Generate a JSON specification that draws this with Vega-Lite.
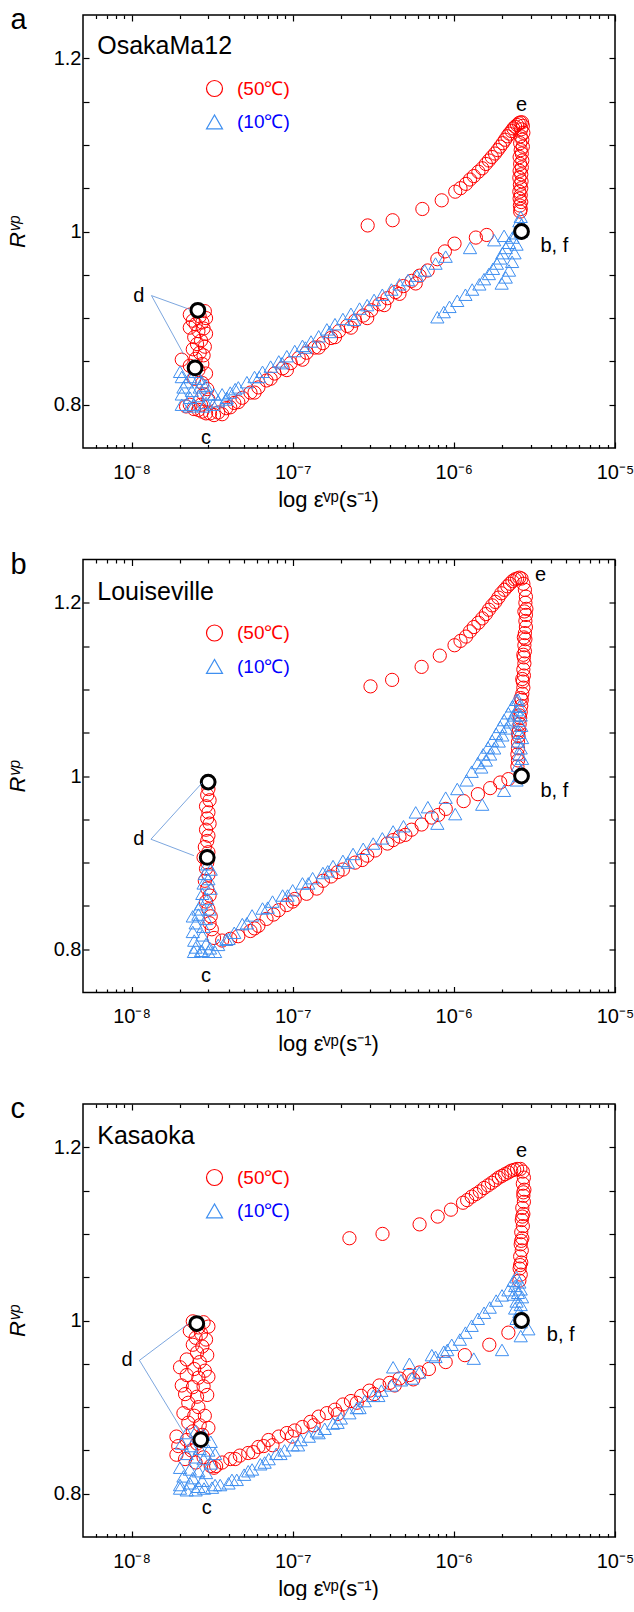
{
"$schema": "https://vega.github.io/schema/vega-lite/v6.json",
"background": "white",
"padding": {"left": 5, "top": 5, "right": 0, "bottom": 0},
"bounds": "flush",
"spacing": 111.5,
"config": {
  "view": {"stroke": "black", "strokeWidth": 1.5},
  "font": "Liberation Sans",
  "axis": {"domain": false, "grid": false, "tickColor": "black", "tickWidth": 1.2, "labelFont": "Liberation Sans", "labelFontSize": 20, "labelColor": "black", "labelFlush": false, "labelOverlap": false, "titleFont": "Liberation Sans", "titleFontSize": 22, "titleFontWeight": "normal", "titleColor": "black"},
  "legend": {"labelColor": {"expr": "datum.value === '50' ? '#ff0000' : '#0000ff'"}},
  "title": {"anchor": "start", "frame": "group", "fontSize": 29, "fontWeight": "normal", "font": "Liberation Sans", "color": "black", "offset": 0, "baseline": "alphabetic", "dx": -72.5, "dy": 25}
},
"resolve": {"scale": {"color": "independent", "shape": "independent"}, "legend": {"color": "independent", "shape": "independent"}},
"datasets": {
"ptsA": [
{"x":2.92e-7,"y":1.007,"T":"50"},{"x":4.17e-7,"y":1.013,"T":"50"},{"x":6.38e-7,"y":1.026,"T":"50"},{"x":8.41e-7,"y":1.036,"T":"50"},{"x":1.02e-6,"y":1.046,"T":"50"},{"x":1.1e-6,"y":1.05,"T":"50"},{"x":1.19e-6,"y":1.055,"T":"50"},{"x":1.26e-6,"y":1.06,"T":"50"},{"x":1.33e-6,"y":1.064,"T":"50"},{"x":1.42e-6,"y":1.069,"T":"50"},{"x":1.5e-6,"y":1.073,"T":"50"},{"x":1.58e-6,"y":1.078,"T":"50"},{"x":1.65e-6,"y":1.082,"T":"50"},{"x":1.72e-6,"y":1.086,"T":"50"},{"x":1.8e-6,"y":1.09,"T":"50"},{"x":1.87e-6,"y":1.094,"T":"50"},{"x":1.94e-6,"y":1.098,"T":"50"},{"x":2.01e-6,"y":1.102,"T":"50"},{"x":2.08e-6,"y":1.106,"T":"50"},{"x":2.15e-6,"y":1.11,"T":"50"},{"x":2.21e-6,"y":1.113,"T":"50"},{"x":2.28e-6,"y":1.116,"T":"50"},{"x":2.34e-6,"y":1.119,"T":"50"},{"x":2.4e-6,"y":1.121,"T":"50"},{"x":2.47e-6,"y":1.123,"T":"50"},{"x":2.53e-6,"y":1.125,"T":"50"},{"x":2.59e-6,"y":1.126,"T":"50"},{"x":2.65e-6,"y":1.126,"T":"50"},
{"x":2.68e-6,"y":1.122,"T":"50"},{"x":2.62e-6,"y":1.118,"T":"50"},{"x":2.7e-6,"y":1.114,"T":"50"},{"x":2.6e-6,"y":1.11,"T":"50"},{"x":2.66e-6,"y":1.106,"T":"50"},{"x":2.58e-6,"y":1.102,"T":"50"},{"x":2.68e-6,"y":1.098,"T":"50"},{"x":2.6e-6,"y":1.094,"T":"50"},{"x":2.64e-6,"y":1.09,"T":"50"},{"x":2.56e-6,"y":1.086,"T":"50"},{"x":2.66e-6,"y":1.082,"T":"50"},{"x":2.58e-6,"y":1.078,"T":"50"},{"x":2.64e-6,"y":1.074,"T":"50"},{"x":2.56e-6,"y":1.07,"T":"50"},{"x":2.62e-6,"y":1.066,"T":"50"},{"x":2.55e-6,"y":1.062,"T":"50"},{"x":2.63e-6,"y":1.058,"T":"50"},{"x":2.57e-6,"y":1.054,"T":"50"},{"x":2.62e-6,"y":1.05,"T":"50"},{"x":2.55e-6,"y":1.046,"T":"50"},{"x":2.6e-6,"y":1.042,"T":"50"},{"x":2.56e-6,"y":1.038,"T":"50"},{"x":2.62e-6,"y":1.034,"T":"50"},{"x":2.57e-6,"y":1.03,"T":"50"},{"x":2.6e-6,"y":1.026,"T":"50"},{"x":2.58e-6,"y":1.023,"T":"50"},
{"x":1.6e-6,"y":0.996,"T":"50"},{"x":1.37e-6,"y":0.993,"T":"50"},{"x":1.01e-6,"y":0.986,"T":"50"},{"x":8.8e-7,"y":0.977,"T":"50"},{"x":7.9e-7,"y":0.968,"T":"50"},{"x":6.88e-7,"y":0.955,"T":"50"},{"x":6.13e-7,"y":0.949,"T":"50"},{"x":5.47e-7,"y":0.943,"T":"50"},{"x":4.87e-7,"y":0.937,"T":"50"},{"x":4.34e-7,"y":0.93,"T":"50"},{"x":3.87e-7,"y":0.923,"T":"50"},{"x":3.45e-7,"y":0.916,"T":"50"},{"x":3.07e-7,"y":0.909,"T":"50"},{"x":2.74e-7,"y":0.903,"T":"50"},{"x":2.44e-7,"y":0.897,"T":"50"},{"x":2.18e-7,"y":0.891,"T":"50"},{"x":1.94e-7,"y":0.885,"T":"50"},{"x":1.73e-7,"y":0.877,"T":"50"},{"x":1.54e-7,"y":0.871,"T":"50"},{"x":1.37e-7,"y":0.866,"T":"50"},{"x":1.22e-7,"y":0.86,"T":"50"},{"x":1.09e-7,"y":0.854,"T":"50"},{"x":9.72e-8,"y":0.848,"T":"50"},{"x":8.66e-8,"y":0.842,"T":"50"},{"x":7.72e-8,"y":0.836,"T":"50"},{"x":6.88e-8,"y":0.828,"T":"50"},{"x":6.13e-8,"y":0.82,"T":"50"},{"x":5.47e-8,"y":0.814,"T":"50"},{"x":4.87e-8,"y":0.808,"T":"50"},{"x":4.34e-8,"y":0.802,"T":"50"},{"x":3.87e-8,"y":0.796,"T":"50"},{"x":3.45e-8,"y":0.791,"T":"50"},{"x":3.07e-8,"y":0.79,"T":"50"},{"x":2.74e-8,"y":0.792,"T":"50"},{"x":2.44e-8,"y":0.795,"T":"50"},{"x":2.18e-8,"y":0.798,"T":"50"},
{"x":5.8e-7,"y":0.94,"T":"50"},{"x":4.6e-7,"y":0.928,"T":"50"},{"x":3.7e-7,"y":0.915,"T":"50"},{"x":2.9e-7,"y":0.9,"T":"50"},{"x":2.3e-7,"y":0.889,"T":"50"},{"x":1.83e-7,"y":0.878,"T":"50"},{"x":1.45e-7,"y":0.866,"T":"50"},{"x":1.15e-7,"y":0.852,"T":"50"},{"x":9.2e-8,"y":0.84,"T":"50"},{"x":7.3e-8,"y":0.83,"T":"50"},{"x":5.8e-8,"y":0.814,"T":"50"},{"x":4.6e-8,"y":0.803,"T":"50"},{"x":4.1e-8,"y":0.797,"T":"50"},{"x":3.65e-8,"y":0.789,"T":"50"},{"x":3.25e-8,"y":0.788,"T":"50"},{"x":2.9e-8,"y":0.79,"T":"50"},{"x":2.6e-8,"y":0.794,"T":"50"},
{"x":2.55e-8,"y":0.909,"T":"50"},{"x":2.85e-8,"y":0.908,"T":"50"},{"x":2.3e-8,"y":0.904,"T":"50"},{"x":2.65e-8,"y":0.902,"T":"50"},{"x":2.9e-8,"y":0.9,"T":"50"},{"x":2.4e-8,"y":0.897,"T":"50"},{"x":2.75e-8,"y":0.895,"T":"50"},{"x":2.5e-8,"y":0.893,"T":"50"},{"x":2.3e-8,"y":0.889,"T":"50"},{"x":2.8e-8,"y":0.888,"T":"50"},{"x":2.6e-8,"y":0.885,"T":"50"},{"x":2.9e-8,"y":0.882,"T":"50"},{"x":2.45e-8,"y":0.878,"T":"50"},{"x":2.7e-8,"y":0.874,"T":"50"},{"x":2.55e-8,"y":0.87,"T":"50"},{"x":2.85e-8,"y":0.867,"T":"50"},{"x":2.4e-8,"y":0.864,"T":"50"},{"x":2.65e-8,"y":0.86,"T":"50"},{"x":2.8e-8,"y":0.857,"T":"50"},{"x":2.5e-8,"y":0.853,"T":"50"},{"x":2.05e-8,"y":0.852,"T":"50"},{"x":2.75e-8,"y":0.847,"T":"50"},{"x":2.3e-8,"y":0.845,"T":"50"},{"x":2.6e-8,"y":0.84,"T":"50"},{"x":2.9e-8,"y":0.836,"T":"50"},{"x":2.45e-8,"y":0.83,"T":"50"},{"x":2.75e-8,"y":0.825,"T":"50"},{"x":2.95e-8,"y":0.818,"T":"50"},{"x":2.8e-8,"y":0.812,"T":"50"},{"x":3.0e-8,"y":0.806,"T":"50"},{"x":2.7e-8,"y":0.8,"T":"50"},{"x":2.3e-8,"y":0.8,"T":"50"},
{"x":2.6e-6,"y":1.017,"T":"10"},{"x":2.55e-6,"y":1.012,"T":"10"},{"x":2.63e-6,"y":1.008,"T":"10"},{"x":2.52e-6,"y":1.004,"T":"10"},{"x":2.6e-6,"y":1.0,"T":"10"},{"x":2.45e-6,"y":0.998,"T":"10"},
{"x":2.31e-6,"y":0.993,"T":"10"},{"x":2.2e-6,"y":0.987,"T":"10"},{"x":2.1e-6,"y":0.981,"T":"10"},{"x":2.0e-6,"y":0.975,"T":"10"},{"x":1.94e-6,"y":0.969,"T":"10"},{"x":1.85e-6,"y":0.963,"T":"10"},{"x":1.75e-6,"y":0.957,"T":"10"},{"x":1.65e-6,"y":0.951,"T":"10"},{"x":1.54e-6,"y":0.945,"T":"10"},{"x":1.44e-6,"y":0.939,"T":"10"},{"x":1.3e-6,"y":0.933,"T":"10"},{"x":1.18e-6,"y":0.927,"T":"10"},{"x":1.05e-6,"y":0.92,"T":"10"},{"x":9.4e-7,"y":0.913,"T":"10"},{"x":8.66e-7,"y":0.907,"T":"10"},{"x":7.9e-7,"y":0.901,"T":"10"},
{"x":2.45e-6,"y":0.985,"T":"10"},{"x":2.38e-6,"y":0.975,"T":"10"},{"x":2.3e-6,"y":0.965,"T":"10"},{"x":2.2e-6,"y":0.955,"T":"10"},{"x":2.1e-6,"y":0.947,"T":"10"},{"x":1.98e-6,"y":0.94,"T":"10"},
{"x":2.05e-6,"y":0.995,"T":"10"},{"x":1.78e-6,"y":0.99,"T":"10"},{"x":1.26e-6,"y":0.981,"T":"10"},{"x":8.9e-7,"y":0.971,"T":"10"},{"x":7.7e-7,"y":0.963,"T":"10"},{"x":6.6e-7,"y":0.955,"T":"10"},{"x":5.9e-7,"y":0.949,"T":"10"},{"x":5.2e-7,"y":0.944,"T":"10"},{"x":4.6e-7,"y":0.939,"T":"10"},{"x":4.1e-7,"y":0.933,"T":"10"},{"x":3.6e-7,"y":0.927,"T":"10"},{"x":3.2e-7,"y":0.921,"T":"10"},{"x":2.9e-7,"y":0.915,"T":"10"},{"x":2.6e-7,"y":0.911,"T":"10"},{"x":2.3e-7,"y":0.905,"T":"10"},{"x":2.05e-7,"y":0.899,"T":"10"},{"x":1.83e-7,"y":0.893,"T":"10"},{"x":1.63e-7,"y":0.887,"T":"10"},{"x":1.45e-7,"y":0.879,"T":"10"},{"x":1.3e-7,"y":0.873,"T":"10"},{"x":1.15e-7,"y":0.868,"T":"10"},{"x":1.03e-7,"y":0.862,"T":"10"},{"x":9.2e-8,"y":0.856,"T":"10"},{"x":8.2e-8,"y":0.85,"T":"10"},{"x":7.3e-8,"y":0.844,"T":"10"},{"x":6.5e-8,"y":0.838,"T":"10"},{"x":5.8e-8,"y":0.832,"T":"10"},{"x":5.2e-8,"y":0.826,"T":"10"},{"x":4.6e-8,"y":0.82,"T":"10"},{"x":4.1e-8,"y":0.814,"T":"10"},{"x":3.65e-8,"y":0.812,"T":"10"},{"x":3.25e-8,"y":0.812,"T":"10"},{"x":3.0e-8,"y":0.812,"T":"10"},
{"x":2.4e-7,"y":0.898,"T":"10"},{"x":1.7e-7,"y":0.884,"T":"10"},{"x":1.2e-7,"y":0.866,"T":"10"},{"x":8.6e-8,"y":0.848,"T":"10"},{"x":6.2e-8,"y":0.832,"T":"10"},{"x":4.4e-8,"y":0.818,"T":"10"},{"x":3.9e-8,"y":0.808,"T":"10"},
{"x":2.0e-8,"y":0.838,"T":"10"},{"x":2.05e-8,"y":0.832,"T":"10"},{"x":2.31e-8,"y":0.832,"T":"10"},{"x":2.6e-8,"y":0.83,"T":"10"},{"x":2.74e-8,"y":0.826,"T":"10"},{"x":2.1e-8,"y":0.82,"T":"10"},{"x":2.37e-8,"y":0.816,"T":"10"},{"x":2.65e-8,"y":0.82,"T":"10"},{"x":2.9e-8,"y":0.822,"T":"10"},{"x":2.05e-8,"y":0.812,"T":"10"},{"x":2.31e-8,"y":0.808,"T":"10"},{"x":2.6e-8,"y":0.81,"T":"10"},{"x":2.05e-8,"y":0.8,"T":"10"},{"x":2.44e-8,"y":0.8,"T":"10"},{"x":2.9e-8,"y":0.802,"T":"10"},{"x":3.45e-8,"y":0.804,"T":"10"},{"x":3.87e-8,"y":0.806,"T":"10"},{"x":2.3e-8,"y":0.798,"T":"10"},{"x":2.8e-8,"y":0.798,"T":"10"},{"x":3.2e-8,"y":0.8,"T":"10"},{"x":2.2e-8,"y":0.826,"T":"10"},{"x":2.5e-8,"y":0.838,"T":"10"}
],
"ptsB": [
{"x":3.04e-7,"y":1.1035,"T":"50"},{"x":4.14e-7,"y":1.111,"T":"50"},{"x":6.31e-7,"y":1.126,"T":"50"},{"x":8.18e-7,"y":1.139,"T":"50"},{"x":1.01e-6,"y":1.151,"T":"50"},{"x":1.1e-6,"y":1.156,"T":"50"},{"x":1.19e-6,"y":1.161,"T":"50"},{"x":1.26e-6,"y":1.167,"T":"50"},{"x":1.33e-6,"y":1.172,"T":"50"},{"x":1.42e-6,"y":1.177,"T":"50"},{"x":1.5e-6,"y":1.182,"T":"50"},{"x":1.58e-6,"y":1.187,"T":"50"},{"x":1.65e-6,"y":1.192,"T":"50"},{"x":1.73e-6,"y":1.197,"T":"50"},{"x":1.81e-6,"y":1.201,"T":"50"},{"x":1.89e-6,"y":1.206,"T":"50"},{"x":1.97e-6,"y":1.211,"T":"50"},{"x":2.06e-6,"y":1.215,"T":"50"},{"x":2.15e-6,"y":1.219,"T":"50"},{"x":2.23e-6,"y":1.222,"T":"50"},{"x":2.31e-6,"y":1.225,"T":"50"},{"x":2.39e-6,"y":1.227,"T":"50"},{"x":2.47e-6,"y":1.228,"T":"50"},{"x":2.55e-6,"y":1.229,"T":"50"},{"x":2.63e-6,"y":1.228,"T":"50"},
{"x":2.7e-6,"y":1.222,"T":"50"},{"x":2.76e-6,"y":1.215,"T":"50"},{"x":2.8e-6,"y":1.207,"T":"50"},{"x":2.78e-6,"y":1.2,"T":"50"},{"x":2.82e-6,"y":1.193,"T":"50"},{"x":2.8e-6,"y":1.186,"T":"50"},{"x":2.78e-6,"y":1.179,"T":"50"},{"x":2.8e-6,"y":1.172,"T":"50"},{"x":2.76e-6,"y":1.165,"T":"50"},{"x":2.78e-6,"y":1.158,"T":"50"},{"x":2.74e-6,"y":1.151,"T":"50"},{"x":2.76e-6,"y":1.144,"T":"50"},{"x":2.72e-6,"y":1.137,"T":"50"},{"x":2.74e-6,"y":1.13,"T":"50"},{"x":2.7e-6,"y":1.123,"T":"50"},{"x":2.72e-6,"y":1.116,"T":"50"},{"x":2.68e-6,"y":1.109,"T":"50"},{"x":2.7e-6,"y":1.102,"T":"50"},{"x":2.66e-6,"y":1.095,"T":"50"},{"x":2.64e-6,"y":1.088,"T":"50"},{"x":2.62e-6,"y":1.081,"T":"50"},{"x":2.6e-6,"y":1.074,"T":"50"},{"x":2.58e-6,"y":1.067,"T":"50"},{"x":2.56e-6,"y":1.06,"T":"50"},{"x":2.54e-6,"y":1.053,"T":"50"},{"x":2.52e-6,"y":1.046,"T":"50"},{"x":2.5e-6,"y":1.039,"T":"50"},{"x":2.5e-6,"y":1.032,"T":"50"},{"x":2.48e-6,"y":1.025,"T":"50"},{"x":2.5e-6,"y":1.018,"T":"50"},{"x":2.48e-6,"y":1.011,"T":"50"},{"x":2.74e-6,"y":1.19,"T":"50"},{"x":2.72e-6,"y":1.16,"T":"50"},{"x":2.7e-6,"y":1.14,"T":"50"},{"x":2.66e-6,"y":1.112,"T":"50"},{"x":2.6e-6,"y":1.09,"T":"50"},{"x":2.55e-6,"y":1.07,"T":"50"},{"x":2.5e-6,"y":1.05,"T":"50"},
{"x":2.18e-6,"y":0.9964,"T":"50"},{"x":1.94e-6,"y":0.9925,"T":"50"},{"x":1.68e-6,"y":0.986,"T":"50"},{"x":1.41e-6,"y":0.979,"T":"50"},{"x":1.15e-6,"y":0.971,"T":"50"},{"x":8.91e-7,"y":0.962,"T":"50"},{"x":7.29e-7,"y":0.952,"T":"50"},{"x":6.31e-7,"y":0.944,"T":"50"},{"x":5.47e-7,"y":0.938,"T":"50"},{"x":4.6e-7,"y":0.93,"T":"50"},{"x":3.87e-7,"y":0.922,"T":"50"},{"x":3.25e-7,"y":0.914,"T":"50"},{"x":2.9e-7,"y":0.908,"T":"50"},{"x":2.44e-7,"y":0.9,"T":"50"},{"x":2.05e-7,"y":0.892,"T":"50"},{"x":1.73e-7,"y":0.884,"T":"50"},{"x":1.54e-7,"y":0.879,"T":"50"},{"x":1.41e-7,"y":0.87,"T":"50"},{"x":1.22e-7,"y":0.864,"T":"50"},{"x":1.03e-7,"y":0.858,"T":"50"},{"x":9.17e-8,"y":0.851,"T":"50"},{"x":8.18e-8,"y":0.845,"T":"50"},{"x":6.88e-8,"y":0.835,"T":"50"},{"x":6.13e-8,"y":0.827,"T":"50"},{"x":5.47e-8,"y":0.821,"T":"50"},{"x":4.6e-8,"y":0.815,"T":"50"},{"x":4.1e-8,"y":0.812,"T":"50"},{"x":3.65e-8,"y":0.81,"T":"50"},{"x":3.25e-8,"y":0.813,"T":"50"},
{"x":8.0e-7,"y":0.955,"T":"50"},{"x":5.0e-7,"y":0.932,"T":"50"},{"x":4.2e-7,"y":0.926,"T":"50"},{"x":2.7e-7,"y":0.903,"T":"50"},{"x":1.9e-7,"y":0.889,"T":"50"},{"x":1.0e-7,"y":0.855,"T":"50"},{"x":7.6e-8,"y":0.84,"T":"50"},{"x":5.8e-8,"y":0.824,"T":"50"},
{"x":2.99e-8,"y":0.993,"T":"50"},{"x":3.0e-8,"y":0.985,"T":"50"},{"x":2.95e-8,"y":0.978,"T":"50"},{"x":3.05e-8,"y":0.972,"T":"50"},{"x":2.9e-8,"y":0.965,"T":"50"},{"x":3.0e-8,"y":0.958,"T":"50"},{"x":2.95e-8,"y":0.951,"T":"50"},{"x":3.05e-8,"y":0.945,"T":"50"},{"x":2.9e-8,"y":0.938,"T":"50"},{"x":3.0e-8,"y":0.931,"T":"50"},{"x":2.95e-8,"y":0.925,"T":"50"},{"x":2.85e-8,"y":0.918,"T":"50"},{"x":3.0e-8,"y":0.912,"T":"50"},{"x":2.8e-8,"y":0.906,"T":"50"},{"x":2.95e-8,"y":0.9,"T":"50"},{"x":2.9e-8,"y":0.893,"T":"50"},{"x":3.0e-8,"y":0.886,"T":"50"},{"x":2.85e-8,"y":0.879,"T":"50"},{"x":2.95e-8,"y":0.87,"T":"50"},{"x":3.05e-8,"y":0.862,"T":"50"},{"x":2.9e-8,"y":0.855,"T":"50"},{"x":3.0e-8,"y":0.846,"T":"50"},{"x":3.1e-8,"y":0.838,"T":"50"},{"x":3.05e-8,"y":0.83,"T":"50"},{"x":3.15e-8,"y":0.823,"T":"50"},
{"x":2.5e-6,"y":1.088,"T":"10"},{"x":2.55e-6,"y":1.08,"T":"10"},{"x":2.45e-6,"y":1.076,"T":"10"},{"x":2.6e-6,"y":1.07,"T":"10"},{"x":2.5e-6,"y":1.064,"T":"10"},{"x":2.62e-6,"y":1.058,"T":"10"},{"x":2.55e-6,"y":1.05,"T":"10"},{"x":2.65e-6,"y":1.044,"T":"10"},{"x":2.5e-6,"y":1.04,"T":"10"},{"x":2.6e-6,"y":1.032,"T":"10"},{"x":2.55e-6,"y":1.025,"T":"10"},{"x":2.65e-6,"y":1.02,"T":"10"},{"x":2.5e-6,"y":1.012,"T":"10"},{"x":2.6e-6,"y":1.006,"T":"10"},{"x":2.55e-6,"y":1.0,"T":"10"},{"x":2.45e-6,"y":0.995,"T":"10"},
{"x":2.44e-6,"y":1.088,"T":"10"},{"x":2.31e-6,"y":1.0805,"T":"10"},{"x":2.18e-6,"y":1.0725,"T":"10"},{"x":2.05e-6,"y":1.0646,"T":"10"},{"x":1.94e-6,"y":1.0567,"T":"10"},{"x":1.83e-6,"y":1.0488,"T":"10"},{"x":1.73e-6,"y":1.0408,"T":"10"},{"x":1.63e-6,"y":1.0329,"T":"10"},{"x":1.52e-6,"y":1.025,"T":"10"},{"x":1.41e-6,"y":1.015,"T":"10"},{"x":1.29e-6,"y":1.005,"T":"10"},{"x":1.2e-6,"y":0.995,"T":"10"},{"x":1.05e-6,"y":0.985,"T":"10"},{"x":8.9e-7,"y":0.975,"T":"10"},{"x":6.9e-7,"y":0.964,"T":"10"},{"x":5.8e-7,"y":0.958,"T":"10"},
{"x":2.35e-6,"y":1.07,"T":"10"},{"x":2.25e-6,"y":1.062,"T":"10"},{"x":2.12e-6,"y":1.055,"T":"10"},{"x":2.0e-6,"y":1.047,"T":"10"},{"x":1.9e-6,"y":1.04,"T":"10"},{"x":1.78e-6,"y":1.032,"T":"10"},{"x":1.68e-6,"y":1.025,"T":"10"},{"x":1.58e-6,"y":1.018,"T":"10"},{"x":1.48e-6,"y":1.01,"T":"10"},
{"x":2.05e-6,"y":0.983,"T":"10"},{"x":1.5e-6,"y":0.967,"T":"10"},{"x":1.02e-6,"y":0.956,"T":"10"},{"x":7.9e-7,"y":0.945,"T":"10"},
{"x":4.87e-7,"y":0.942,"T":"10"},{"x":4.2e-7,"y":0.936,"T":"10"},{"x":3.6e-7,"y":0.928,"T":"10"},{"x":3.16e-7,"y":0.922,"T":"10"},{"x":2.74e-7,"y":0.916,"T":"10"},{"x":2.37e-7,"y":0.91,"T":"10"},{"x":2.05e-7,"y":0.902,"T":"10"},{"x":1.78e-7,"y":0.896,"T":"10"},{"x":1.54e-7,"y":0.888,"T":"10"},{"x":1.33e-7,"y":0.882,"T":"10"},{"x":1.15e-7,"y":0.876,"T":"10"},{"x":1.0e-7,"y":0.868,"T":"10"},{"x":8.66e-8,"y":0.862,"T":"10"},{"x":7.5e-8,"y":0.855,"T":"10"},{"x":6.5e-8,"y":0.847,"T":"10"},{"x":5.6e-8,"y":0.839,"T":"10"},{"x":4.87e-8,"y":0.829,"T":"10"},{"x":4.34e-8,"y":0.819,"T":"10"},{"x":3.87e-8,"y":0.811,"T":"10"},{"x":3.45e-8,"y":0.805,"T":"10"},{"x":3.07e-8,"y":0.801,"T":"10"},{"x":2.74e-8,"y":0.798,"T":"10"},{"x":2.44e-8,"y":0.797,"T":"10"},
{"x":2.2e-7,"y":0.9,"T":"10"},{"x":1.65e-7,"y":0.89,"T":"10"},{"x":1.25e-7,"y":0.876,"T":"10"},{"x":9.3e-8,"y":0.862,"T":"10"},{"x":7.0e-8,"y":0.848,"T":"10"},{"x":5.2e-8,"y":0.83,"T":"10"},{"x":4.0e-8,"y":0.812,"T":"10"},
{"x":2.95e-8,"y":0.898,"T":"10"},{"x":3.1e-8,"y":0.892,"T":"10"},{"x":2.85e-8,"y":0.887,"T":"10"},{"x":3.0e-8,"y":0.881,"T":"10"},{"x":2.8e-8,"y":0.876,"T":"10"},{"x":3.1e-8,"y":0.87,"T":"10"},{"x":2.75e-8,"y":0.864,"T":"10"},{"x":2.95e-8,"y":0.858,"T":"10"},{"x":2.7e-8,"y":0.852,"T":"10"},{"x":3.05e-8,"y":0.846,"T":"10"},{"x":2.6e-8,"y":0.84,"T":"10"},{"x":2.9e-8,"y":0.835,"T":"10"},{"x":2.5e-8,"y":0.83,"T":"10"},{"x":2.8e-8,"y":0.826,"T":"10"},{"x":2.4e-8,"y":0.82,"T":"10"},{"x":2.75e-8,"y":0.816,"T":"10"},{"x":2.45e-8,"y":0.81,"T":"10"},{"x":2.9e-8,"y":0.806,"T":"10"},{"x":2.5e-8,"y":0.802,"T":"10"},{"x":2.7e-8,"y":0.798,"T":"10"},{"x":3.0e-8,"y":0.797,"T":"10"},{"x":3.3e-8,"y":0.797,"T":"10"},{"x":2.6e-8,"y":0.846,"T":"10"},{"x":2.4e-8,"y":0.838,"T":"10"}
],
"ptsC": [
{"x":2.25e-7,"y":1.095,"T":"50"},{"x":3.61e-7,"y":1.1,"T":"50"},{"x":6.13e-7,"y":1.111,"T":"50"},{"x":7.94e-7,"y":1.12,"T":"50"},{"x":9.6e-7,"y":1.128,"T":"50"},{"x":1.14e-6,"y":1.136,"T":"50"},{"x":1.21e-6,"y":1.139,"T":"50"},{"x":1.29e-6,"y":1.143,"T":"50"},{"x":1.37e-6,"y":1.146,"T":"50"},{"x":1.45e-6,"y":1.149,"T":"50"},{"x":1.54e-6,"y":1.153,"T":"50"},{"x":1.63e-6,"y":1.156,"T":"50"},{"x":1.72e-6,"y":1.159,"T":"50"},{"x":1.81e-6,"y":1.162,"T":"50"},{"x":1.9e-6,"y":1.165,"T":"50"},{"x":1.99e-6,"y":1.167,"T":"50"},{"x":2.08e-6,"y":1.169,"T":"50"},{"x":2.18e-6,"y":1.171,"T":"50"},{"x":2.27e-6,"y":1.173,"T":"50"},{"x":2.37e-6,"y":1.174,"T":"50"},{"x":2.47e-6,"y":1.175,"T":"50"},{"x":2.59e-6,"y":1.175,"T":"50"},{"x":2.68e-6,"y":1.172,"T":"50"},
{"x":2.72e-6,"y":1.165,"T":"50"},{"x":2.68e-6,"y":1.158,"T":"50"},{"x":2.74e-6,"y":1.151,"T":"50"},{"x":2.7e-6,"y":1.144,"T":"50"},{"x":2.72e-6,"y":1.137,"T":"50"},{"x":2.66e-6,"y":1.13,"T":"50"},{"x":2.7e-6,"y":1.123,"T":"50"},{"x":2.64e-6,"y":1.116,"T":"50"},{"x":2.68e-6,"y":1.109,"T":"50"},{"x":2.62e-6,"y":1.102,"T":"50"},{"x":2.66e-6,"y":1.095,"T":"50"},{"x":2.6e-6,"y":1.088,"T":"50"},{"x":2.64e-6,"y":1.081,"T":"50"},{"x":2.58e-6,"y":1.074,"T":"50"},{"x":2.62e-6,"y":1.067,"T":"50"},{"x":2.56e-6,"y":1.06,"T":"50"},{"x":2.6e-6,"y":1.053,"T":"50"},{"x":2.55e-6,"y":1.046,"T":"50"},{"x":2.7e-6,"y":1.148,"T":"50"},{"x":2.66e-6,"y":1.12,"T":"50"},{"x":2.62e-6,"y":1.092,"T":"50"},{"x":2.58e-6,"y":1.064,"T":"50"},
{"x":2.18e-6,"y":0.986,"T":"50"},{"x":1.66e-6,"y":0.972,"T":"50"},{"x":1.17e-6,"y":0.96,"T":"50"},{"x":8.9e-7,"y":0.952,"T":"50"},{"x":7.0e-7,"y":0.944,"T":"50"},{"x":6.13e-7,"y":0.94,"T":"50"},{"x":5.3e-7,"y":0.937,"T":"50"},{"x":4.6e-7,"y":0.933,"T":"50"},{"x":4.0e-7,"y":0.928,"T":"50"},{"x":3.45e-7,"y":0.925,"T":"50"},{"x":2.99e-7,"y":0.919,"T":"50"},{"x":2.66e-7,"y":0.913,"T":"50"},{"x":2.3e-7,"y":0.907,"T":"50"},{"x":2.05e-7,"y":0.903,"T":"50"},{"x":1.83e-7,"y":0.897,"T":"50"},{"x":1.63e-7,"y":0.893,"T":"50"},{"x":1.45e-7,"y":0.889,"T":"50"},{"x":1.29e-7,"y":0.883,"T":"50"},{"x":1.15e-7,"y":0.877,"T":"50"},{"x":1.03e-7,"y":0.873,"T":"50"},{"x":9.2e-8,"y":0.87,"T":"50"},{"x":8.2e-8,"y":0.866,"T":"50"},{"x":7.08e-8,"y":0.862,"T":"50"},{"x":6.13e-8,"y":0.854,"T":"50"},{"x":5.3e-8,"y":0.847,"T":"50"},{"x":4.7e-8,"y":0.844,"T":"50"},{"x":4.1e-8,"y":0.84,"T":"50"},{"x":3.65e-8,"y":0.836,"T":"50"},{"x":3.35e-8,"y":0.832,"T":"50"},{"x":3.25e-8,"y":0.83,"T":"50"},
{"x":7.5e-8,"y":0.856,"T":"50"},{"x":9.9e-8,"y":0.866,"T":"50"},{"x":1.35e-7,"y":0.879,"T":"50"},{"x":1.9e-7,"y":0.892,"T":"50"},{"x":2.5e-7,"y":0.905,"T":"50"},{"x":3.2e-7,"y":0.915,"T":"50"},{"x":4.3e-7,"y":0.925,"T":"50"},{"x":5.6e-7,"y":0.932,"T":"50"},{"x":6.6e-8,"y":0.855,"T":"50"},{"x":5.7e-8,"y":0.848,"T":"50"},{"x":4.4e-8,"y":0.84,"T":"50"},
{"x":2.4e-8,"y":0.999,"T":"50"},{"x":2.8e-8,"y":0.998,"T":"50"},{"x":2.6e-8,"y":0.992,"T":"50"},{"x":3.0e-8,"y":0.993,"T":"50"},{"x":2.3e-8,"y":0.988,"T":"50"},{"x":2.7e-8,"y":0.985,"T":"50"},{"x":2.5e-8,"y":0.98,"T":"50"},{"x":2.9e-8,"y":0.978,"T":"50"},{"x":2.4e-8,"y":0.972,"T":"50"},{"x":2.75e-8,"y":0.97,"T":"50"},{"x":2.55e-8,"y":0.963,"T":"50"},{"x":2.95e-8,"y":0.96,"T":"50"},{"x":2.2e-8,"y":0.955,"T":"50"},{"x":2.65e-8,"y":0.952,"T":"50"},{"x":2.0e-8,"y":0.946,"T":"50"},{"x":2.45e-8,"y":0.944,"T":"50"},{"x":2.85e-8,"y":0.942,"T":"50"},{"x":2.2e-8,"y":0.937,"T":"50"},{"x":2.6e-8,"y":0.934,"T":"50"},{"x":3.0e-8,"y":0.935,"T":"50"},{"x":2.05e-8,"y":0.925,"T":"50"},{"x":2.4e-8,"y":0.923,"T":"50"},{"x":2.8e-8,"y":0.924,"T":"50"},{"x":2.15e-8,"y":0.915,"T":"50"},{"x":2.55e-8,"y":0.912,"T":"50"},{"x":2.95e-8,"y":0.914,"T":"50"},{"x":2.25e-8,"y":0.905,"T":"50"},{"x":2.6e-8,"y":0.9,"T":"50"},{"x":2.1e-8,"y":0.893,"T":"50"},{"x":2.45e-8,"y":0.89,"T":"50"},{"x":2.85e-8,"y":0.89,"T":"50"},{"x":2.25e-8,"y":0.882,"T":"50"},{"x":2.65e-8,"y":0.879,"T":"50"},{"x":3.0e-8,"y":0.876,"T":"50"},{"x":2.4e-8,"y":0.872,"T":"50"},{"x":2.75e-8,"y":0.868,"T":"50"},{"x":1.9e-8,"y":0.866,"T":"50"},{"x":2.2e-8,"y":0.862,"T":"50"},{"x":2.55e-8,"y":0.858,"T":"50"},{"x":1.95e-8,"y":0.855,"T":"50"},{"x":2.35e-8,"y":0.85,"T":"50"},{"x":1.9e-8,"y":0.845,"T":"50"},{"x":2.15e-8,"y":0.84,"T":"50"},{"x":2.8e-8,"y":0.842,"T":"50"},{"x":2.5e-8,"y":0.836,"T":"50"},{"x":3.1e-8,"y":0.832,"T":"50"},
{"x":2.45e-6,"y":1.05,"T":"10"},{"x":2.35e-6,"y":1.046,"T":"10"},{"x":2.55e-6,"y":1.044,"T":"10"},{"x":2.4e-6,"y":1.04,"T":"10"},{"x":2.6e-6,"y":1.036,"T":"10"},{"x":2.5e-6,"y":1.032,"T":"10"},{"x":2.35e-6,"y":1.03,"T":"10"},{"x":2.65e-6,"y":1.027,"T":"10"},{"x":2.45e-6,"y":1.022,"T":"10"},{"x":2.6e-6,"y":1.018,"T":"10"},{"x":2.4e-6,"y":1.014,"T":"10"},{"x":2.55e-6,"y":1.01,"T":"10"},{"x":2.65e-6,"y":1.005,"T":"10"},{"x":2.45e-6,"y":1.002,"T":"10"},{"x":2.6e-6,"y":0.998,"T":"10"},
{"x":2.18e-6,"y":1.035,"T":"10"},{"x":1.99e-6,"y":1.029,"T":"10"},{"x":1.83e-6,"y":1.023,"T":"10"},{"x":1.67e-6,"y":1.015,"T":"10"},{"x":1.54e-6,"y":1.009,"T":"10"},{"x":1.41e-6,"y":1.002,"T":"10"},{"x":1.29e-6,"y":0.994,"T":"10"},{"x":1.18e-6,"y":0.986,"T":"10"},{"x":1.09e-6,"y":0.978,"T":"10"},{"x":9.7e-7,"y":0.972,"T":"10"},{"x":8.66e-7,"y":0.964,"T":"10"},{"x":7.7e-7,"y":0.958,"T":"10"},
{"x":4.2e-7,"y":0.946,"T":"10"},{"x":5.3e-7,"y":0.95,"T":"10"},{"x":7.3e-7,"y":0.96,"T":"10"},{"x":9.1e-7,"y":0.966,"T":"10"},{"x":1.33e-6,"y":0.956,"T":"10"},{"x":1.99e-6,"y":0.966,"T":"10"},{"x":2.6e-6,"y":0.982,"T":"10"},{"x":2.9e-6,"y":0.99,"T":"10"},
{"x":6.1e-7,"y":0.94,"T":"10"},{"x":5.5e-7,"y":0.933,"T":"10"},{"x":4.7e-7,"y":0.931,"T":"10"},{"x":4.1e-7,"y":0.925,"T":"10"},{"x":3.55e-7,"y":0.919,"T":"10"},{"x":3.16e-7,"y":0.913,"T":"10"},{"x":2.8e-7,"y":0.907,"T":"10"},{"x":2.5e-7,"y":0.899,"T":"10"},{"x":2.25e-7,"y":0.893,"T":"10"},{"x":1.99e-7,"y":0.887,"T":"10"},{"x":1.78e-7,"y":0.881,"T":"10"},{"x":1.58e-7,"y":0.875,"T":"10"},{"x":1.41e-7,"y":0.872,"T":"10"},{"x":1.26e-7,"y":0.866,"T":"10"},{"x":1.12e-7,"y":0.862,"T":"10"},{"x":1.0e-7,"y":0.856,"T":"10"},{"x":8.9e-8,"y":0.85,"T":"10"},{"x":7.9e-8,"y":0.846,"T":"10"},{"x":7.1e-8,"y":0.84,"T":"10"},{"x":6.3e-8,"y":0.834,"T":"10"},{"x":5.6e-8,"y":0.828,"T":"10"},{"x":5.0e-8,"y":0.822,"T":"10"},{"x":4.5e-8,"y":0.816,"T":"10"},{"x":4.0e-8,"y":0.812,"T":"10"},{"x":3.55e-8,"y":0.81,"T":"10"},{"x":3.16e-8,"y":0.807,"T":"10"},{"x":2.82e-8,"y":0.806,"T":"10"},{"x":2.5e-8,"y":0.804,"T":"10"},{"x":2.2e-8,"y":0.804,"T":"10"},{"x":2.0e-8,"y":0.806,"T":"10"},
{"x":1.9e-7,"y":0.882,"T":"10"},{"x":1.45e-7,"y":0.87,"T":"10"},{"x":1.08e-7,"y":0.856,"T":"10"},{"x":8.4e-8,"y":0.846,"T":"10"},{"x":6.7e-8,"y":0.836,"T":"10"},{"x":5.3e-8,"y":0.826,"T":"10"},{"x":4.2e-8,"y":0.816,"T":"10"},{"x":3.3e-8,"y":0.81,"T":"10"},{"x":2.6e-7,"y":0.899,"T":"10"},{"x":3.4e-7,"y":0.913,"T":"10"},
{"x":2.2e-8,"y":0.87,"T":"10"},{"x":2.5e-8,"y":0.872,"T":"10"},{"x":2.8e-8,"y":0.868,"T":"10"},{"x":3.1e-8,"y":0.86,"T":"10"},{"x":2.05e-8,"y":0.858,"T":"10"},{"x":2.35e-8,"y":0.855,"T":"10"},{"x":2.65e-8,"y":0.852,"T":"10"},{"x":3.0e-8,"y":0.85,"T":"10"},{"x":3.3e-8,"y":0.846,"T":"10"},{"x":2.2e-8,"y":0.846,"T":"10"},{"x":2.5e-8,"y":0.842,"T":"10"},{"x":2.8e-8,"y":0.84,"T":"10"},{"x":3.1e-8,"y":0.835,"T":"10"},{"x":2.0e-8,"y":0.83,"T":"10"},{"x":2.3e-8,"y":0.828,"T":"10"},{"x":2.6e-8,"y":0.826,"T":"10"},{"x":2.9e-8,"y":0.824,"T":"10"},{"x":2.1e-8,"y":0.82,"T":"10"},{"x":2.4e-8,"y":0.818,"T":"10"},{"x":2.75e-8,"y":0.815,"T":"10"},{"x":2.0e-8,"y":0.81,"T":"10"},{"x":2.3e-8,"y":0.812,"T":"10"},{"x":2.6e-8,"y":0.808,"T":"10"}
],
"keyA": [{"x":2.58e-8,"y":0.909},{"x":2.48e-8,"y":0.8425},{"x":2.63e-6,"y":1.0}],
"keyB": [{"x":2.99e-8,"y":0.993},{"x":2.95e-8,"y":0.906},{"x":2.63e-6,"y":1.0}],
"keyC": [{"x":2.54e-8,"y":0.9965},{"x":2.69e-8,"y":0.8625},{"x":2.63e-6,"y":1.0}],
"txtA": [{"x":2.63e-6,"y":1.146,"label":"e"},{"x":4.2e-6,"y":0.983,"label":"b, f"},{"x":2.9e-8,"y":0.762,"label":"c"},{"x":1.11e-8,"y":0.926,"label":"d"}],
"txtB": [{"x":3.45e-6,"y":1.232,"label":"e"},{"x":4.2e-6,"y":0.983,"label":"b, f"},{"x":2.9e-8,"y":0.769,"label":"c"},{"x":1.11e-8,"y":0.927,"label":"d"}],
"txtC": [{"x":2.63e-6,"y":1.196,"label":"e"},{"x":4.6e-6,"y":0.983,"label":"b, f"},{"x":2.93e-8,"y":0.784,"label":"c"},{"x":9.4e-9,"y":0.954,"label":"d"}],
"lineA": [{"x":1.33e-8,"y":0.926,"x2":2.3e-8,"y2":0.91},{"x":1.33e-8,"y":0.926,"x2":2.11e-8,"y2":0.858}],
"lineB": [{"x":1.32e-8,"y":0.927,"x2":2.74e-8,"y2":0.992},{"x":1.32e-8,"y":0.927,"x2":2.44e-8,"y2":0.908}],
"lineC": [{"x":1.12e-8,"y":0.954,"x2":2.24e-8,"y2":0.996},{"x":1.12e-8,"y":0.954,"x2":2.11e-8,"y2":0.87}],
"nameA": [{"x":6.13e-9,"y":1.205,"label":"OsakaMa12"}],
"nameB": [{"x":6.13e-9,"y":1.203,"label":"Louiseville"}],
"nameC": [{"x":6.13e-9,"y":1.204,"label":"Kasaoka"}]
},
"vconcat": [
{
 "title": {"text": "a"},
 "width": 532, "height": 433,
 "resolve": {"axis": {"x": "independent", "y": "independent"}},
 "layer": [
  {"data": {"name": "ptsA"},
   "mark": {"type": "point", "filled": false, "size": 175, "strokeWidth": 1, "opacity": 1},
   "encoding": {
    "x": {"field": "x", "type": "quantitative", "scale": {"type": "log", "domain": [5e-9, 1e-5], "nice": false},
          "axis": {"orient": "bottom", "values": [1e-8, 1e-7, 1e-6, 1e-5], "tickSize": -6, "labelPadding": 20, "labelExpr": "datum.value < 5e-8 ? '10⁻⁸' : datum.value < 5e-7 ? '10⁻⁷' : datum.value < 5e-6 ? '10⁻⁶' : '10⁻⁵'", "title": "log ε̇ᵛᵖ(s⁻¹)", "titlePadding": 7, "titleX": 245}},
    "y": {"field": "y", "type": "quantitative", "scale": {"domain": [0.75, 1.25], "nice": false, "zero": false},
          "axis": {"orient": "left", "values": [0.8, 0.85, 0.9, 0.95, 1, 1.05, 1.1, 1.15, 1.2], "tickSize": -6, "labelPadding": 8, "labelExpr": "abs(datum.value - 0.8) < 0.001 ? '0.8' : abs(datum.value - 1) < 0.001 ? '1' : abs(datum.value - 1.2) < 0.001 ? '1.2' : ''", "title": "Rᵛᵖ", "titleFontStyle": "italic", "titlePadding": 24}},
    "color": {"field": "T", "type": "nominal", "scale": {"domain": ["50", "10"], "range": ["#ff0000", "#3f8ff0"]},
              "legend": {"title": null, "orient": "none", "legendX": 122, "legendY": 64, "symbolSize": 256, "symbolStrokeWidth": 1.2, "labelFontSize": 19, "labelFont": "Liberation Sans", "labelOffset": 13, "rowPadding": 13.5, "labelExpr": "'(' + datum.label + '℃)'"}},
    "shape": {"field": "T", "type": "nominal", "scale": {"domain": ["50", "10"], "range": ["circle", "triangle-up"]},
              "legend": {"title": null, "orient": "none", "legendX": 122, "legendY": 64, "symbolSize": 256, "symbolStrokeWidth": 1.2, "labelFontSize": 19, "labelFont": "Liberation Sans", "labelOffset": 13, "rowPadding": 13.5, "labelExpr": "'(' + datum.label + '℃)'"}}
   }},
  {"data": {"name": "keyA"},
   "mark": {"type": "point", "shape": "circle", "filled": true, "fill": "white", "stroke": "black", "strokeWidth": 3, "size": 190, "opacity": 1},
   "encoding": {
    "x": {"field": "x", "type": "quantitative", "axis": {"orient": "top", "values": [1e-8, 1e-7, 1e-6, 1e-5], "tickSize": -6, "labels": false, "title": null}},
    "y": {"field": "y", "type": "quantitative", "axis": {"orient": "right", "values": [0.8, 0.85, 0.9, 0.95, 1, 1.05, 1.1, 1.15, 1.2], "tickSize": -6, "labels": false, "title": null}}
   }},
  {"data": {"name": "txtA"},
   "mark": {"type": "text", "fontSize": 20, "font": "Liberation Sans", "align": "center", "baseline": "middle", "color": "black"},
   "encoding": {
    "x": {"field": "x", "type": "quantitative", "axis": {"orient": "bottom", "values": [6e-9, 7e-9, 8e-9, 9e-9, 2e-8, 3e-8, 4e-8, 5e-8, 6e-8, 7e-8, 8e-8, 9e-8, 2e-7, 3e-7, 4e-7, 5e-7, 6e-7, 7e-7, 8e-7, 9e-7, 2e-6, 3e-6, 4e-6, 5e-6, 6e-6, 7e-6, 8e-6, 9e-6], "tickSize": -3.5, "labels": false, "title": null}},
    "y": {"field": "y", "type": "quantitative", "axis": null},
    "text": {"field": "label"}
   }},
  {"data": {"name": "lineA"},
   "mark": {"type": "rule", "stroke": "#5b8fd6", "strokeWidth": 0.8},
   "encoding": {
    "x": {"field": "x", "type": "quantitative", "axis": {"orient": "top", "values": [6e-9, 7e-9, 8e-9, 9e-9, 2e-8, 3e-8, 4e-8, 5e-8, 6e-8, 7e-8, 8e-8, 9e-8, 2e-7, 3e-7, 4e-7, 5e-7, 6e-7, 7e-7, 8e-7, 9e-7, 2e-6, 3e-6, 4e-6, 5e-6, 6e-6, 7e-6, 8e-6, 9e-6], "tickSize": -3.5, "labels": false, "title": null}},
    "y": {"field": "y", "type": "quantitative", "axis": null},
    "x2": {"field": "x2"}, "y2": {"field": "y2"}
   }},
  {"data": {"name": "nameA"},
   "mark": {"type": "text", "fontSize": 25, "font": "Liberation Sans", "align": "left", "baseline": "alphabetic", "color": "black"},
   "encoding": {
    "x": {"field": "x", "type": "quantitative", "axis": null},
    "y": {"field": "y", "type": "quantitative", "axis": null},
    "text": {"field": "label"}
   }}
 ]
},
{
 "title": {"text": "b"},
 "width": 532, "height": 433,
 "resolve": {"axis": {"x": "independent", "y": "independent"}},
 "layer": [
  {"data": {"name": "ptsB"},
   "mark": {"type": "point", "filled": false, "size": 175, "strokeWidth": 1, "opacity": 1},
   "encoding": {
    "x": {"field": "x", "type": "quantitative", "scale": {"type": "log", "domain": [5e-9, 1e-5], "nice": false},
          "axis": {"orient": "bottom", "values": [1e-8, 1e-7, 1e-6, 1e-5], "tickSize": -6, "labelPadding": 20, "labelExpr": "datum.value < 5e-8 ? '10⁻⁸' : datum.value < 5e-7 ? '10⁻⁷' : datum.value < 5e-6 ? '10⁻⁶' : '10⁻⁵'", "title": "log ε̇ᵛᵖ(s⁻¹)", "titlePadding": 7, "titleX": 245}},
    "y": {"field": "y", "type": "quantitative", "scale": {"domain": [0.75, 1.25], "nice": false, "zero": false},
          "axis": {"orient": "left", "values": [0.8, 0.85, 0.9, 0.95, 1, 1.05, 1.1, 1.15, 1.2], "tickSize": -6, "labelPadding": 8, "labelExpr": "abs(datum.value - 0.8) < 0.001 ? '0.8' : abs(datum.value - 1) < 0.001 ? '1' : abs(datum.value - 1.2) < 0.001 ? '1.2' : ''", "title": "Rᵛᵖ", "titleFontStyle": "italic", "titlePadding": 24}},
    "color": {"field": "T", "type": "nominal", "scale": {"domain": ["50", "10"], "range": ["#ff0000", "#3f8ff0"]},
              "legend": {"title": null, "orient": "none", "legendX": 122, "legendY": 64, "symbolSize": 256, "symbolStrokeWidth": 1.2, "labelFontSize": 19, "labelFont": "Liberation Sans", "labelOffset": 13, "rowPadding": 13.5, "labelExpr": "'(' + datum.label + '℃)'"}},
    "shape": {"field": "T", "type": "nominal", "scale": {"domain": ["50", "10"], "range": ["circle", "triangle-up"]},
              "legend": {"title": null, "orient": "none", "legendX": 122, "legendY": 64, "symbolSize": 256, "symbolStrokeWidth": 1.2, "labelFontSize": 19, "labelFont": "Liberation Sans", "labelOffset": 13, "rowPadding": 13.5, "labelExpr": "'(' + datum.label + '℃)'"}}
   }},
  {"data": {"name": "keyB"},
   "mark": {"type": "point", "shape": "circle", "filled": true, "fill": "white", "stroke": "black", "strokeWidth": 3, "size": 190, "opacity": 1},
   "encoding": {
    "x": {"field": "x", "type": "quantitative", "axis": {"orient": "top", "values": [1e-8, 1e-7, 1e-6, 1e-5], "tickSize": -6, "labels": false, "title": null}},
    "y": {"field": "y", "type": "quantitative", "axis": {"orient": "right", "values": [0.8, 0.85, 0.9, 0.95, 1, 1.05, 1.1, 1.15, 1.2], "tickSize": -6, "labels": false, "title": null}}
   }},
  {"data": {"name": "txtB"},
   "mark": {"type": "text", "fontSize": 20, "font": "Liberation Sans", "align": "center", "baseline": "middle", "color": "black"},
   "encoding": {
    "x": {"field": "x", "type": "quantitative", "axis": {"orient": "bottom", "values": [6e-9, 7e-9, 8e-9, 9e-9, 2e-8, 3e-8, 4e-8, 5e-8, 6e-8, 7e-8, 8e-8, 9e-8, 2e-7, 3e-7, 4e-7, 5e-7, 6e-7, 7e-7, 8e-7, 9e-7, 2e-6, 3e-6, 4e-6, 5e-6, 6e-6, 7e-6, 8e-6, 9e-6], "tickSize": -3.5, "labels": false, "title": null}},
    "y": {"field": "y", "type": "quantitative", "axis": null},
    "text": {"field": "label"}
   }},
  {"data": {"name": "lineB"},
   "mark": {"type": "rule", "stroke": "#5b8fd6", "strokeWidth": 0.8},
   "encoding": {
    "x": {"field": "x", "type": "quantitative", "axis": {"orient": "top", "values": [6e-9, 7e-9, 8e-9, 9e-9, 2e-8, 3e-8, 4e-8, 5e-8, 6e-8, 7e-8, 8e-8, 9e-8, 2e-7, 3e-7, 4e-7, 5e-7, 6e-7, 7e-7, 8e-7, 9e-7, 2e-6, 3e-6, 4e-6, 5e-6, 6e-6, 7e-6, 8e-6, 9e-6], "tickSize": -3.5, "labels": false, "title": null}},
    "y": {"field": "y", "type": "quantitative", "axis": null},
    "x2": {"field": "x2"}, "y2": {"field": "y2"}
   }},
  {"data": {"name": "nameB"},
   "mark": {"type": "text", "fontSize": 25, "font": "Liberation Sans", "align": "left", "baseline": "alphabetic", "color": "black"},
   "encoding": {
    "x": {"field": "x", "type": "quantitative", "axis": null},
    "y": {"field": "y", "type": "quantitative", "axis": null},
    "text": {"field": "label"}
   }}
 ]
},
{
 "title": {"text": "c"},
 "width": 532, "height": 433,
 "resolve": {"axis": {"x": "independent", "y": "independent"}},
 "layer": [
  {"data": {"name": "ptsC"},
   "mark": {"type": "point", "filled": false, "size": 175, "strokeWidth": 1, "opacity": 1},
   "encoding": {
    "x": {"field": "x", "type": "quantitative", "scale": {"type": "log", "domain": [5e-9, 1e-5], "nice": false},
          "axis": {"orient": "bottom", "values": [1e-8, 1e-7, 1e-6, 1e-5], "tickSize": -6, "labelPadding": 20, "labelExpr": "datum.value < 5e-8 ? '10⁻⁸' : datum.value < 5e-7 ? '10⁻⁷' : datum.value < 5e-6 ? '10⁻⁶' : '10⁻⁵'", "title": "log ε̇ᵛᵖ(s⁻¹)", "titlePadding": 7, "titleX": 245}},
    "y": {"field": "y", "type": "quantitative", "scale": {"domain": [0.75, 1.25], "nice": false, "zero": false},
          "axis": {"orient": "left", "values": [0.8, 0.85, 0.9, 0.95, 1, 1.05, 1.1, 1.15, 1.2], "tickSize": -6, "labelPadding": 8, "labelExpr": "abs(datum.value - 0.8) < 0.001 ? '0.8' : abs(datum.value - 1) < 0.001 ? '1' : abs(datum.value - 1.2) < 0.001 ? '1.2' : ''", "title": "Rᵛᵖ", "titleFontStyle": "italic", "titlePadding": 24}},
    "color": {"field": "T", "type": "nominal", "scale": {"domain": ["50", "10"], "range": ["#ff0000", "#3f8ff0"]},
              "legend": {"title": null, "orient": "none", "legendX": 122, "legendY": 64, "symbolSize": 256, "symbolStrokeWidth": 1.2, "labelFontSize": 19, "labelFont": "Liberation Sans", "labelOffset": 13, "rowPadding": 13.5, "labelExpr": "'(' + datum.label + '℃)'"}},
    "shape": {"field": "T", "type": "nominal", "scale": {"domain": ["50", "10"], "range": ["circle", "triangle-up"]},
              "legend": {"title": null, "orient": "none", "legendX": 122, "legendY": 64, "symbolSize": 256, "symbolStrokeWidth": 1.2, "labelFontSize": 19, "labelFont": "Liberation Sans", "labelOffset": 13, "rowPadding": 13.5, "labelExpr": "'(' + datum.label + '℃)'"}}
   }},
  {"data": {"name": "keyC"},
   "mark": {"type": "point", "shape": "circle", "filled": true, "fill": "white", "stroke": "black", "strokeWidth": 3, "size": 190, "opacity": 1},
   "encoding": {
    "x": {"field": "x", "type": "quantitative", "axis": {"orient": "top", "values": [1e-8, 1e-7, 1e-6, 1e-5], "tickSize": -6, "labels": false, "title": null}},
    "y": {"field": "y", "type": "quantitative", "axis": {"orient": "right", "values": [0.8, 0.85, 0.9, 0.95, 1, 1.05, 1.1, 1.15, 1.2], "tickSize": -6, "labels": false, "title": null}}
   }},
  {"data": {"name": "txtC"},
   "mark": {"type": "text", "fontSize": 20, "font": "Liberation Sans", "align": "center", "baseline": "middle", "color": "black"},
   "encoding": {
    "x": {"field": "x", "type": "quantitative", "axis": {"orient": "bottom", "values": [6e-9, 7e-9, 8e-9, 9e-9, 2e-8, 3e-8, 4e-8, 5e-8, 6e-8, 7e-8, 8e-8, 9e-8, 2e-7, 3e-7, 4e-7, 5e-7, 6e-7, 7e-7, 8e-7, 9e-7, 2e-6, 3e-6, 4e-6, 5e-6, 6e-6, 7e-6, 8e-6, 9e-6], "tickSize": -3.5, "labels": false, "title": null}},
    "y": {"field": "y", "type": "quantitative", "axis": null},
    "text": {"field": "label"}
   }},
  {"data": {"name": "lineC"},
   "mark": {"type": "rule", "stroke": "#5b8fd6", "strokeWidth": 0.8},
   "encoding": {
    "x": {"field": "x", "type": "quantitative", "axis": {"orient": "top", "values": [6e-9, 7e-9, 8e-9, 9e-9, 2e-8, 3e-8, 4e-8, 5e-8, 6e-8, 7e-8, 8e-8, 9e-8, 2e-7, 3e-7, 4e-7, 5e-7, 6e-7, 7e-7, 8e-7, 9e-7, 2e-6, 3e-6, 4e-6, 5e-6, 6e-6, 7e-6, 8e-6, 9e-6], "tickSize": -3.5, "labels": false, "title": null}},
    "y": {"field": "y", "type": "quantitative", "axis": null},
    "x2": {"field": "x2"}, "y2": {"field": "y2"}
   }},
  {"data": {"name": "nameC"},
   "mark": {"type": "text", "fontSize": 25, "font": "Liberation Sans", "align": "left", "baseline": "alphabetic", "color": "black"},
   "encoding": {
    "x": {"field": "x", "type": "quantitative", "axis": null},
    "y": {"field": "y", "type": "quantitative", "axis": null},
    "text": {"field": "label"}
   }}
 ]
}
]
}
